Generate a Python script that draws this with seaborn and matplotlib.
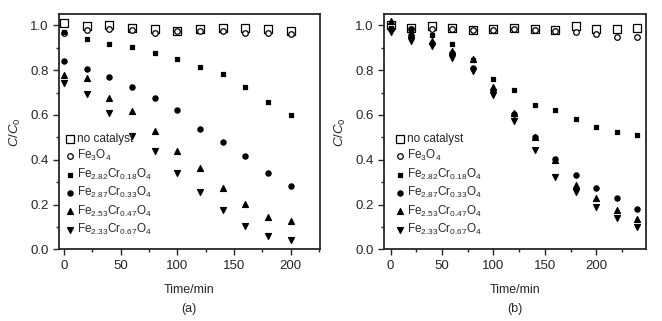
import matplotlib
matplotlib.use("Agg")
import matplotlib.pyplot as plt
import numpy as np
import pandas as pd
import seaborn as sns
from matplotlib.ticker import MultipleLocator

sns.set_style("ticks")
plt.rcParams["font.family"] = ["Liberation Sans", "DejaVu Sans"]
plt.rcParams["mathtext.fontset"] = "custom"
plt.rcParams["mathtext.rm"] = "Liberation Sans"
plt.rcParams["mathtext.it"] = "Liberation Sans:italic"
plt.rcParams["font.size"] = 9

# --- dati pannello (a) ---
time_a = [0, 20, 40, 60, 80, 100, 120, 140, 160, 180, 200]
a_nocat = [1.01, 0.995, 1.0, 0.99, 0.985, 0.975, 0.985, 0.99, 0.99, 0.985, 0.975]
a_fe3o4 = [0.965, 0.98, 0.985, 0.98, 0.965, 0.975, 0.975, 0.975, 0.965, 0.965, 0.96]
a_cr018 = [0.97, 0.938, 0.917, 0.903, 0.878, 0.848, 0.814, 0.783, 0.727, 0.66, 0.602]
a_cr033 = [0.839, 0.803, 0.771, 0.723, 0.675, 0.622, 0.536, 0.479, 0.415, 0.341, 0.282]
a_cr047 = [0.777, 0.765, 0.677, 0.619, 0.528, 0.439, 0.364, 0.274, 0.202, 0.145, 0.126]
a_cr067 = [0.742, 0.692, 0.608, 0.508, 0.437, 0.341, 0.255, 0.175, 0.104, 0.059, 0.041]

# --- dati pannello (b) ---
time_b = [0, 20, 40, 60, 80, 100, 120, 140, 160, 180, 200, 220, 240]
b_nocat = [1.0, 0.99, 0.995, 0.99, 0.98, 0.985, 0.99, 0.985, 0.98, 0.995, 0.985, 0.985, 0.99]
b_fe3o4 = [0.985, 0.985, 0.985, 0.985, 0.98, 0.98, 0.985, 0.98, 0.975, 0.968, 0.961, 0.949, 0.95]
b_cr018 = [0.99, 0.985, 0.958, 0.916, 0.845, 0.762, 0.711, 0.646, 0.62, 0.58, 0.545, 0.525, 0.512]
b_cr033 = [0.985, 0.955, 0.919, 0.875, 0.81, 0.71, 0.605, 0.5, 0.405, 0.333, 0.276, 0.23, 0.181]
b_cr047 = [1.02, 0.96, 0.93, 0.885, 0.849, 0.725, 0.61, 0.5, 0.40, 0.288, 0.229, 0.176, 0.136]
b_cr067 = [0.97, 0.931, 0.909, 0.856, 0.796, 0.69, 0.572, 0.442, 0.321, 0.254, 0.188, 0.142, 0.099]

labels = [
    "no catalyst",
    r"Fe$_\mathregular{3}$O$_\mathregular{4}$",
    r"Fe$_\mathregular{2.82}$Cr$_\mathregular{0.18}$O$_\mathregular{4}$",
    r"Fe$_\mathregular{2.87}$Cr$_\mathregular{0.33}$O$_\mathregular{4}$",
    r"Fe$_\mathregular{2.53}$Cr$_\mathregular{0.47}$O$_\mathregular{4}$",
    r"Fe$_\mathregular{2.33}$Cr$_\mathregular{0.67}$O$_\mathregular{4}$",
]
markers = ["s", "o", "s", "o", "^", "v"]
filled = [False, False, True, True, True, True]
sizes = [30, 16, 12, 14, 18, 18]

fig = plt.figure(figsize=(6.62, 3.21), dpi=100)
ax_a = fig.add_axes([0.089, 0.223, 0.394, 0.733])
ax_b = fig.add_axes([0.580, 0.223, 0.396, 0.733])


def disegna(ax, tempo, serie, xlim, lettera, legx):
    for y, lab, m, f, s in zip(serie, labels, markers, filled, sizes):
        df = pd.DataFrame({"t": tempo, "c": y})
        sns.scatterplot(
            data=df, x="t", y="c", ax=ax, marker=m, s=s,
            color="black" if f else "white", edgecolor="black",
            linewidth=0.9, label=lab, zorder=3,
        )
    ax.set_xlim(*xlim)
    ax.set_ylim(0, 1.05)
    ax.xaxis.set_major_locator(MultipleLocator(50))
    ax.xaxis.set_minor_locator(MultipleLocator(25))
    ax.yaxis.set_major_locator(MultipleLocator(0.2))
    ax.yaxis.set_minor_locator(MultipleLocator(0.1))
    ax.tick_params(which="both", direction="out", top=False, right=False, width=1.0)
    ax.tick_params(which="major", length=4, labelsize=9.5)
    ax.tick_params(which="minor", length=2.5)
    for sp in ax.spines.values():
        sp.set_linewidth(1.3)
        sp.set_visible(True)
    ax.set_xlabel("Time/min", fontsize=9, labelpad=9)
    ax.set_ylabel(r"$C/C_\mathregular{0}$", fontsize=9.5, labelpad=5)
    ax.text(0.5, -0.254, lettera, transform=ax.transAxes, ha="center", va="center", fontsize=9)
    ax.legend(
        loc="upper left", bbox_to_anchor=(legx, 0.515), frameon=False,
        handletextpad=0.1, labelspacing=0.28, borderaxespad=0, handlelength=1.0,
        fontsize=8.5,
    )


disegna(ax_a, time_a, [a_nocat, a_fe3o4, a_cr018, a_cr033, a_cr047, a_cr067], (-4.5, 225.5), "(a)", 0.0)
disegna(ax_b, time_b, [b_nocat, b_fe3o4, b_cr018, b_cr033, b_cr047, b_cr067], (-6.5, 248.5), "(b)", 0.02)

fig.savefig("out.png", dpi=100)
